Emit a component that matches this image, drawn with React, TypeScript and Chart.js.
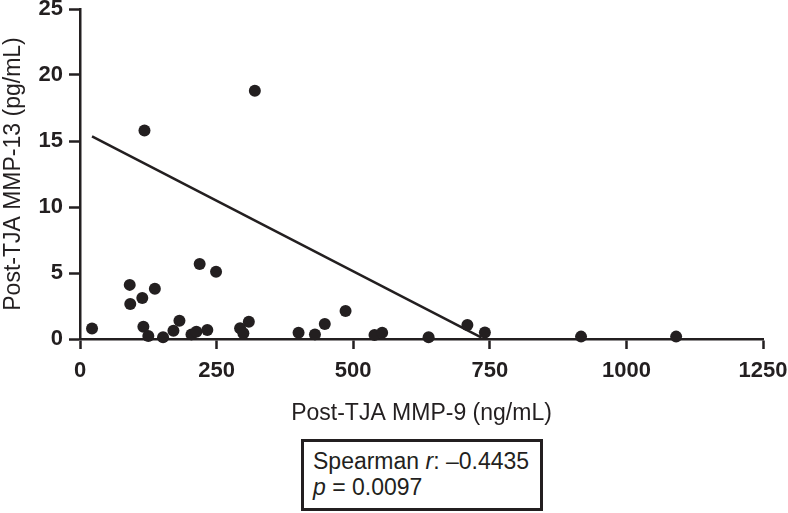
import React, { useEffect, useRef } from "react";
import { Chart, registerables } from "chart.js";

Chart.register(...registerables);

// Scatter data: Post-TJA MMP-9 (ng/mL) vs Post-TJA MMP-13 (pg/mL)
const mmp9 = [22, 91, 92, 114, 137, 118, 116, 125, 152, 171, 182, 204, 213, 233, 219, 249, 293, 299, 309, 320, 400, 430, 448, 486, 539, 553, 638, 709, 741, 917, 1091];
const mmp13 = [0.8, 4.1, 2.65, 3.1, 3.8, 15.8, 0.93, 0.23, 0.13, 0.63, 1.39, 0.35, 0.55, 0.68, 5.68, 5.1, 0.81, 0.43, 1.31, 18.8, 0.48, 0.35, 1.14, 2.12, 0.3, 0.48, 0.13, 1.06, 0.5, 0.18, 0.18];

// Fitted line end points
const fitX = [22, 735];
const fitY = [15.35, 0.1];

const xTicks = [0, 250, 500, 750, 1000, 1250];
const yTicks = [0, 5, 10, 15, 20, 25];

const INK = "#231f20";
const FONT = "'Liberation Sans', Arial, Helvetica, sans-serif";

export default function App() {
  const ref = useRef<HTMLCanvasElement | null>(null);

  useEffect(() => {
    if (!ref.current) return;
    const points = mmp9.map((x, i) => ({ x, y: mmp13[i] }));
    const fit = fitX.map((x, i) => ({ x, y: fitY[i] }));
    const chart = new Chart(ref.current, {
      type: "scatter",
      data: {
        datasets: [
          {
            type: "scatter",
            data: points,
            backgroundColor: INK,
            borderWidth: 0,
            pointRadius: 6,
            clip: false as any,
          },
          {
            type: "line",
            data: fit,
            borderColor: INK,
            borderWidth: 2.5,
            pointRadius: 0,
            fill: false,
            showLine: true,
            clip: false as any,
          },
        ],
      },
      options: {
        animation: false,
        responsive: false,
        events: [],
        layout: { padding: { top: 9, right: 25, left: 0, bottom: 0 } },
        plugins: { legend: { display: false }, tooltip: { enabled: false } },
        scales: {
          x: {
            type: "linear",
            min: 0,
            max: 1250,
            afterBuildTicks: (s: any) => {
              s.ticks = xTicks.map((v) => ({ value: v }));
            },
            afterFit: (s: any) => {
              s.height = 91;
              s.paddingLeft = 0;
              s.paddingRight = 0;
            },
            ticks: {
              color: INK,
              padding: 9,
              maxRotation: 0,
              callback: (v: any) => String(v),
              font: { family: FONT, size: 22, weight: "bold" },
            },
            grid: {
              drawOnChartArea: false,
              drawTicks: true,
              tickLength: 10,
              tickWidth: 2.5,
              tickColor: INK,
            },
            border: { display: true, width: 2.5, color: INK },
            title: {
              display: true,
              text: "Post-TJA MMP-9 (ng/mL)",
              color: INK,
              font: { family: FONT, size: 23 },
              padding: { top: 0, bottom: 3 },
            },
          },
          y: {
            type: "linear",
            min: 0,
            max: 25,
            afterBuildTicks: (s: any) => {
              s.ticks = yTicks.map((v) => ({ value: v }));
            },
            afterFit: (s: any) => {
              s.width = 80;
              s.paddingTop = 0;
              s.paddingBottom = 0;
            },
            ticks: {
              color: INK,
              padding: 6,
              callback: (v: any) => String(v),
              font: { family: FONT, size: 22, weight: "bold" },
            },
            grid: {
              drawOnChartArea: false,
              drawTicks: true,
              tickLength: 11,
              tickWidth: 2.5,
              tickColor: INK,
            },
            border: { display: true, width: 2.5, color: INK },
            title: {
              display: true,
              text: "Post-TJA MMP-13 (pg/mL)",
              color: INK,
              font: { family: FONT, size: 23 },
              padding: { top: 0, bottom: 0 },
            },
          },
        },
      },
    });
    return () => chart.destroy();
  }, []);

  return (
    <div style={{ position: "absolute", left: 0, top: 0, width: 788, height: 513, background: "#fff" }}>
      <canvas ref={ref} width={788} height={430} style={{ display: "block" }} />
      <div
        style={{
          position: "absolute",
          left: 301,
          top: 439,
          width: 242,
          height: 72,
          boxSizing: "border-box",
          border: `3px solid ${INK}`,
          paddingLeft: 9,
          paddingTop: 6,
          fontFamily: FONT,
          fontSize: 23,
          lineHeight: "26px",
          color: INK,
          whiteSpace: "nowrap",
        }}
      >
        <div>
          Spearman <i>r</i>: –0.4435
        </div>
        <div>
          <i>p</i> = 0.0097
        </div>
      </div>
    </div>
  );
}
